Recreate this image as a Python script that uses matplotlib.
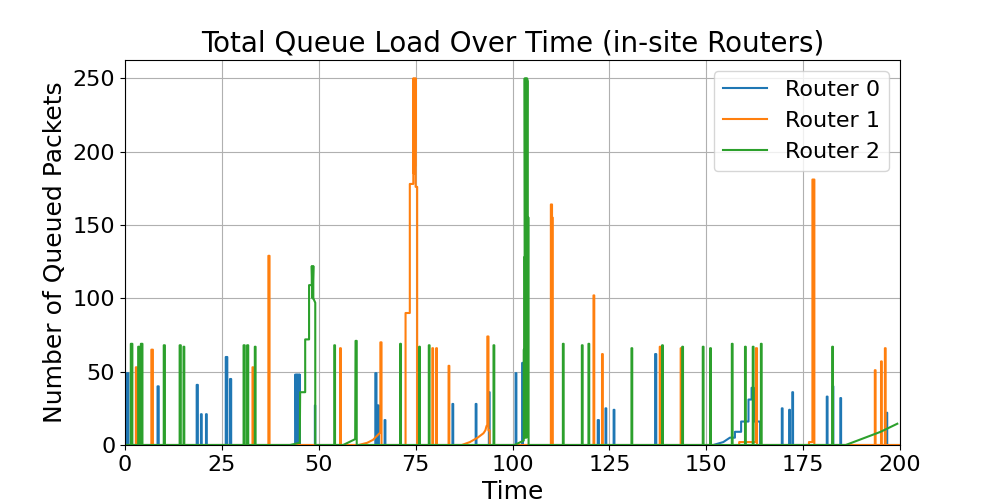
import matplotlib
matplotlib.use("Agg")
import matplotlib.pyplot as plt

T_END = 200

# short bursts: (start, end, queued packets)
router0_bursts = [
    (0.4, 0.9, 49), (8.4, 8.7, 40), (18.5, 18.8, 41), (19.6, 19.8, 21),
    (20.9, 21.1, 21), (26.0, 26.4, 60), (27.1, 27.4, 45),
    (49.0, 49.1, 27), (64.6, 64.9, 49), (65.3, 65.5, 27), (67.0, 67.2, 17),
    (84.5, 84.7, 28), (90.5, 90.7, 28), (93.9, 94.1, 36), (100.8, 101.0, 49),
    (102.5, 102.7, 56), (122.0, 122.3, 17), (124.0, 124.2, 25), (126.1, 126.3, 24),
    (136.8, 137.1, 62), (169.5, 169.7, 25), (171.4, 171.6, 24), (172.2, 172.4, 36),
    (181.1, 181.3, 33), (182.6, 182.8, 40), (184.6, 184.8, 32), (196.6, 196.7, 22),
]
router1_bursts = [
    (2.8, 3.1, 53), (6.8, 7.2, 65), (32.9, 33.1, 53), (37.0, 37.3, 129),
    (55.5, 55.7, 66), (79.3, 79.5, 66), (80.3, 80.5, 66), (83.5, 83.7, 54),
    (120.9, 121.1, 102), (123.1, 123.3, 62), (138.0, 138.2, 67), (143.4, 143.6, 66),
    (193.5, 193.7, 51), (195.1, 195.3, 57), (196.1, 196.3, 66),
]
router2_bursts = [
    (1.5, 1.9, 69), (3.4, 3.7, 67), (4.1, 4.5, 69), (10.0, 10.3, 68),
    (14.1, 14.4, 68), (15.1, 15.3, 67), (30.6, 30.9, 68), (31.5, 31.8, 68),
    (33.5, 33.7, 67), (54.0, 54.2, 68), (71.0, 71.2, 69), (75.9, 76.1, 67),
    (78.4, 78.6, 68), (95.1, 95.3, 68), (113.0, 113.2, 69), (117.9, 118.1, 68),
    (119.6, 119.8, 69), (130.7, 130.9, 66), (138.6, 138.8, 68), (143.8, 144.0, 67),
    (149.1, 149.3, 67), (151.0, 151.2, 66), (156.6, 156.8, 69), (160.0, 160.2, 67),
    (162.0, 162.2, 67), (164.1, 164.3, 69), (182.5, 182.7, 67),
]

# longer build-ups, as (time, packets) points
router0_buildups = [
    [(43.9, 0), (43.9, 48), (44.1, 48), (44.15, 1), (44.3, 48), (44.5, 48),
     (44.55, 1), (44.7, 48), (44.9, 48), (44.95, 1), (45.1, 48), (45.1, 0)],
    [(151.8, 0), (154.4, 2), (156.1, 5), (157.4, 5), (157.4, 9), (159.0, 9),
     (159.0, 16), (160.9, 16), (160.9, 31), (161.7, 31), (161.7, 39), (162.3, 39),
     (162.3, 16), (163.9, 16), (163.9, 0)],
]
router1_buildups = [
    [(60.3, 0), (62.5, 1.5), (64.0, 3.5), (65.3, 7), (65.9, 8.5), (65.9, 70),
     (66.2, 70), (66.2, 0)],
    [(72.4, 0), (72.4, 90), (73.5, 90), (73.5, 178), (74.4, 178), (74.4, 250),
     (74.55, 185), (74.7, 250), (74.85, 190), (75.0, 250), (75.0, 176),
     (75.4, 176), (75.4, 0)],
    [(86.9, 0), (89.0, 2), (91.0, 5), (92.5, 8), (93.0, 10), (93.3, 13),
     (93.5, 13), (93.5, 74), (93.8, 74), (93.8, 10), (94.1, 10), (94.1, 0)],
    [(109.9, 0), (109.9, 164), (110.2, 164), (110.2, 155), (110.4, 155), (110.4, 0)],
    [(158.5, 0), (158.5, 2), (162.8, 2), (162.8, 66), (163.1, 66), (163.1, 0)],
    [(176.5, 0), (176.5, 2), (177.4, 2), (177.4, 181), (177.9, 181), (177.9, 0)],
]
router2_buildups = [
    [(42.6, 0), (45.1, 1.5), (45.2, 36), (46.5, 36), (46.5, 72), (47.5, 72),
     (47.5, 109), (48.2, 109), (48.2, 122), (48.4, 100), (48.6, 122), (48.6, 100),
     (49.1, 97), (49.1, 0)],
    [(56.3, 0), (59.4, 4), (59.5, 71), (59.8, 71), (59.8, 0)],
    [(100.5, 0), (102.9, 3), (102.9, 65), (103.0, 65), (103.0, 128), (103.15, 128),
     (103.15, 250), (103.3, 5), (103.45, 250), (103.6, 5), (103.75, 250),
     (103.95, 248), (103.95, 155), (104.15, 155), (104.15, 0)],
    [(186.0, 0), (190.0, 4), (195.0, 9), (199.3, 14.5)],
]


def build_series(bursts, buildups, t_end):
    pieces = [[(a, 0), (a, h), (b, h), (b, 0)] for a, b, h in bursts]
    pieces += buildups
    pieces.sort(key=lambda p: p[0][0])
    pts = [(0, 0)]
    for p in pieces:
        pts.extend(p)
    if pts[-1][1] == 0 and pts[-1][0] < t_end:
        pts.append((t_end, 0))
    t = [p[0] for p in pts]
    q = [p[1] for p in pts]
    return t, q


routers = {
    "Router 0": (router0_bursts, router0_buildups),
    "Router 1": (router1_bursts, router1_buildups),
    "Router 2": (router2_bursts, router2_buildups),
}

fig, ax = plt.subplots(figsize=(10, 5), dpi=100)
for name, (bursts, buildups) in routers.items():
    t, q = build_series(bursts, buildups, T_END)
    ax.plot(t, q, label=name, linewidth=1.5)

ax.set_xlim(0, T_END)
ax.set_ylim(bottom=0)
ax.set_title("Total Queue Load Over Time (in-site Routers)", fontsize=20)
ax.set_xlabel("Time", fontsize=18)
ax.set_ylabel("Number of Queued Packets", fontsize=18)
ax.tick_params(labelsize=16)
ax.legend(fontsize=16, loc="upper right")
ax.grid(True)

fig.savefig("out.png")
